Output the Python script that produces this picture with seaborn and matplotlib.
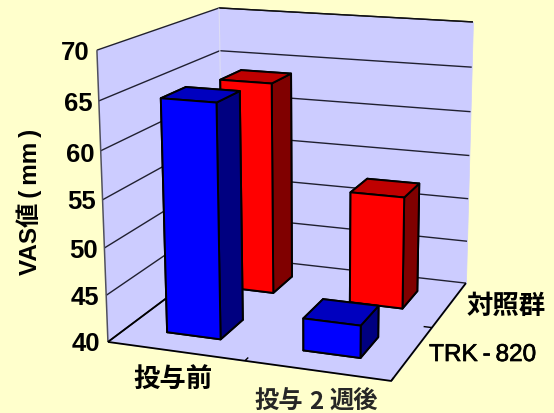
import numpy as np
import pandas as pd
import matplotlib
matplotlib.use("Agg")
import matplotlib.pyplot as plt
import matplotlib.patheffects as pe
import seaborn as sns
from mpl_toolkits.mplot3d.art3d import Poly3DCollection, Line3DCollection

# ---- data ----
categories = ["投与前", "投与2週後"]
series_names = ["TRK-820", "対照群"]
trk_values = [64.7, 43.4]
control_values = [63.8, 52.5]
z_ticks = [40, 45, 50, 55, 60, 65, 70]

df = pd.DataFrame({"cat": categories * 2,
                   "series": np.repeat(series_names, 2),
                   "value": trk_values + control_values})

sns.set_theme(style="white")
CJK = ["Noto Sans CJK JP", "DejaVu Sans"]
plt.rcParams["font.family"] = ["Liberation Sans", "Noto Sans CJK JP", "DejaVu Sans"]

W, H = 554, 413
BG, PANE = "#FFFFCC", "#CCCCFF"
fig = plt.figure(figsize=(W / 100, H / 100), dpi=100, facecolor=BG)
ax = fig.add_axes([0, 0, 1, 1], projection="3d", computed_zorder=False)
ax.computed_zorder = False
ax.set_axis_off()
ax.patch.set_visible(False)
ax.apply_aspect = lambda position=None: None
ax.set_position([0, 0, 1, 1])
ax.viewLim.intervalx = (0, W)
ax.viewLim.intervaly = (0, H)

# ---- projective camera calibrated on the plot box corners ----
XMAX, YMAX, ZMIN, ZMAX = 2, 2, 40, 70
calib = [((0, 0, ZMIN), (108, 342)), ((0, 0, ZMAX), (97, 50)),
         ((0, YMAX, ZMAX), (219, 8)), ((XMAX, 0, ZMIN), (391, 381)),
         ((XMAX, YMAX, ZMIN), (466, 283)), ((XMAX, YMAX, ZMAX), (473, 22))]
A, b = [], []
for (x, y, z), (u, v) in calib:
    v = H - v
    A.append([x, y, z, 1, 0, 0, 0, 0, -u * x, -u * y, -u * z]); b.append(u)
    A.append([0, 0, 0, 0, x, y, z, 1, -v * x, -v * y, -v * z]); b.append(v)
h = np.linalg.lstsq(np.array(A, float), np.array(b, float), rcond=None)[0]
M = np.array([[h[0], h[1], h[2], h[3]],
              [h[4], h[5], h[6], h[7]],
              [-0.05, 1.0, -0.01, 0.4],
              [h[8], h[9], h[10], 1.0]])
ax.get_proj = lambda: M


def pane(verts, z):
    ax.add_collection3d(Poly3DCollection([verts], facecolors=PANE, edgecolors=PANE,
                                         linewidths=0.5, zorder=z))


def line(xs, ys, zs, color, lw, z):
    seg = [list(zip(xs, ys, zs))]
    ax.add_collection3d(Line3DCollection(seg, colors=color, linewidths=lw, zorder=z))


pane([(0, 0, ZMIN), (0, YMAX, ZMIN), (0, YMAX, ZMAX), (0, 0, ZMAX)], 1)
pane([(0, YMAX, ZMIN), (XMAX, YMAX, ZMIN), (XMAX, YMAX, ZMAX), (0, YMAX, ZMAX)], 1)
pane([(0, 0, ZMIN), (XMAX, 0, ZMIN), (XMAX, YMAX, ZMIN), (0, YMAX, ZMIN)], 1)

# gridlines on the walls
for t in z_ticks:
    line([0, 0, XMAX], [0, YMAX, YMAX], [t, t, t], "#202030", 1.0, 2)
# box edges
line([0, 0], [0, 0], [ZMIN, ZMAX], "#505060", 1.1, 3)
line([0, XMAX], [YMAX, YMAX], [ZMAX, ZMAX], "#101010", 1.0, 3)
line([0, XMAX, XMAX], [0, 0, YMAX], [ZMIN, ZMIN, ZMIN], "black", 1.3, 3)
line([0, 0], [0, YMAX], [ZMIN, ZMIN], "black", 1.3, 3)
line([0, 0], [YMAX, YMAX], [ZMIN, ZMAX], "#DDDDF5", 0.8, 2)
# axis ticks on the floor, pointing inwards
for xt in (1, XMAX):
    line([xt, xt], [0, 0.06], [ZMIN, ZMIN], "black", 1, 3)
line([XMAX, XMAX - 0.06], [1, 1], [ZMIN, ZMIN], "black", 1, 3)

# ---- bars ----
BW, BD = 0.40, 0.40
x0 = np.arange(len(categories)) + (1 - BW) / 2


def bars(values, y_index, front, top, side, z):
    vals = np.asarray(values, float)
    # face order of bar3d: -z, +z, -y, +y, -x, +x
    face_cols = [front, top, front, front, side, side] * len(vals)
    coll = ax.bar3d(x0, np.full(len(vals), y_index + (1 - BD) / 2), np.full(len(vals), ZMIN),
                    BW, BD, vals - ZMIN, color=face_cols, edgecolor="black",
                    linewidth=1.4, shade=False, zsort="average")
    coll.set_zorder(z)


bars(df.loc[df.series == "対照群", "value"], 1, "#FF0000", "#BF0000", "#800000", 5)
bars(df.loc[df.series == "TRK-820", "value"], 0, "#0000FF", "#0000BF", "#000080", 6)


def label(px, py, s, size, **kw):
    return fig.text(px / W, 1 - py / H, s, fontsize=size, fontweight=kw.pop("weight", "bold"),
                    ha=kw.pop("ha", "center"), va="center", color="black", **kw)


tick_px = [(86, 344), (84.5, 298), (83, 251), (82, 202), (80, 155), (78, 104), (75, 53)]
for (px, py), t in zip(tick_px, z_ticks):
    label(px, py, str(t), 18.5)

label(29, 201.5, "VAS値\u2009(\u2009mm\u2009)", 17.5, rotation=90)
label(173, 380, "投与前", 19, family=CJK)
fig.text(254 / W, 1 - 402 / H, "投与", fontsize=17.5, fontweight="bold", family=CJK, va="center")
fig.text(316 / W, 1 - 402 / H, "2", fontsize=17.5, fontweight="bold", family=CJK, va="center", ha="center")
fig.text(378 / W, 1 - 402 / H, "週後", fontsize=17.5, fontweight="bold", family=CJK, va="center", ha="right")
label(506.5, 306, "対照群", 19, family=CJK)
trk = label(482.5, 355, "TRK\u2009-\u2009820", 17.5, weight="normal")
trk.set_path_effects([pe.withStroke(linewidth=0.5, foreground="black")])

fig.savefig("out.png", dpi=100, facecolor=BG)
